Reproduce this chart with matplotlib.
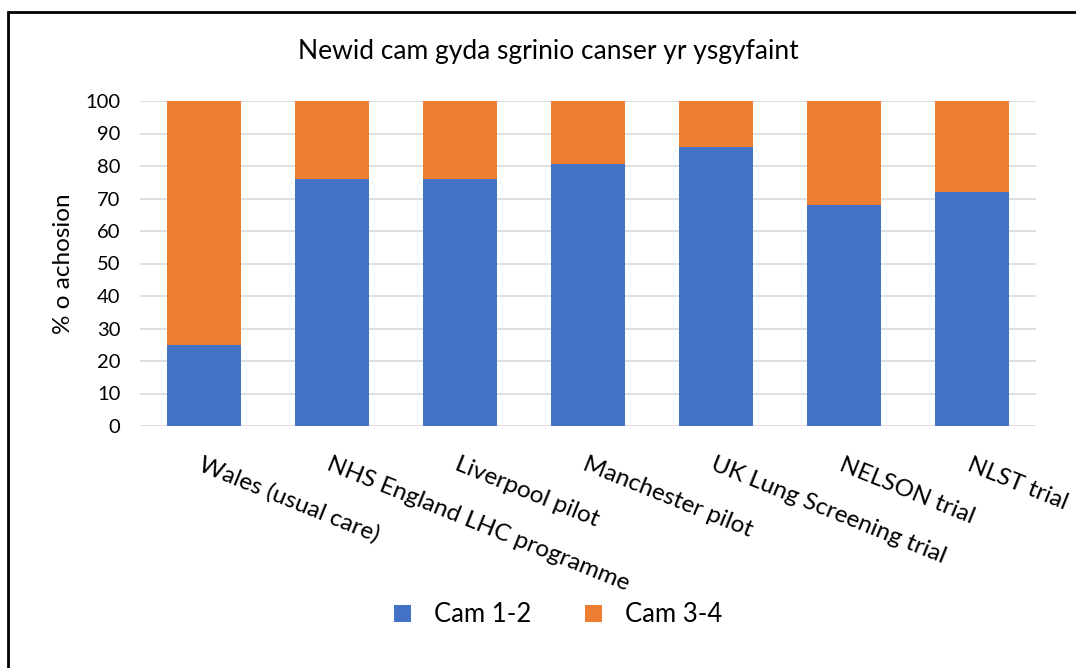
import matplotlib
matplotlib.use("Agg")
from matplotlib import pyplot as plt
from matplotlib.patches import Rectangle
import numpy as np

plt.rcParams['font.family'] = ['Lato', 'DejaVu Sans']

categories = ['Wales (usual care)', 'NHS England LHC programme', 'Liverpool pilot',
              'Manchester pilot', 'UK Lung Screening trial', 'NELSON trial', 'NLST trial']
cam_1_2 = [25, 76, 76, 80.5, 85.7, 68, 72]
cam_3_4 = [100 - v for v in cam_1_2]

blue = '#4472C4'
orange = '#ED7D31'

fig = plt.figure(figsize=(10.76, 6.68), dpi=100)
ax = fig.add_axes([140/1076, 1 - 426/668, 896/1076, 325/668])

x = np.arange(len(categories))
ax.bar(x, cam_1_2, width=0.58, color=blue, label='Cam 1-2', zorder=3)
ax.bar(x, cam_3_4, width=0.58, bottom=cam_1_2, color=orange, label='Cam 3-4', zorder=3)

ax.set_xlim(-0.5, len(categories) - 0.5)
ax.set_ylim(0, 100)
ax.set_yticks(range(0, 101, 10))
ax.tick_params(axis='y', length=0, labelsize=14.5, pad=14)
ax.tick_params(axis='x', length=0, labelsize=17.5, pad=20)
ax.grid(axis='y', color='#D9D9D9', linewidth=1.2, zorder=0)
for s in ax.spines.values():
    s.set_visible(False)

ax.set_xticks(x)
ax.set_xticklabels(categories, rotation=-22, ha='left', va='top', rotation_mode='anchor')
ax.set_ylabel('% o achosion', fontsize=17.5, labelpad=8)

fig.text(548/1076, 1 - 52/668, 'Newid cam gyda sgrinio canser yr ysgyfaint',
         ha='center', va='center', fontsize=19)

fig.legend(loc='center', bbox_to_anchor=(558/1076, 1 - 615/668), ncol=2, frameon=False,
           fontsize=18.5, handlelength=0.65, handleheight=0.65, columnspacing=2.1, handletextpad=0.9)

# outer frame
fig.patches.append(Rectangle((8/1076, -0.1), 1.2, (1 - 12/668) + 0.1, transform=fig.transFigure,
                             fill=False, edgecolor='black', linewidth=2))

fig.savefig('out.png', dpi=100)
